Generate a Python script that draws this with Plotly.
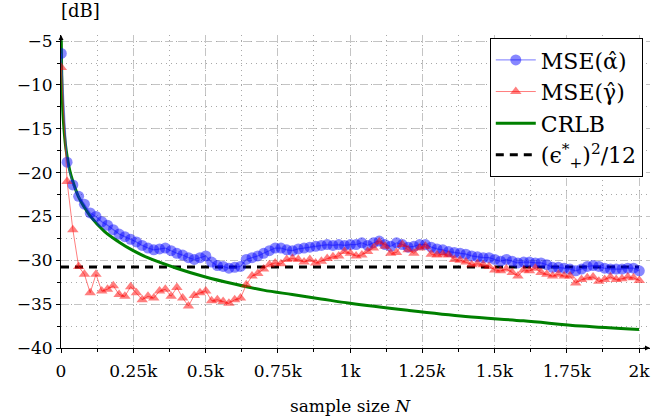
import plotly.graph_objects as go

# ---------------- data ----------------
sample_size = list(range(1, 2002, 20))  # N = 1, 21, ..., 2001

mse_alpha = [
    -6.4, -18.8, -21.4, -22.7, -23.6, -24.6, -25.0, -25.6, -26.0, -26.5,
    -27.0, -27.3, -27.6, -27.9, -28.3, -28.6, -28.8, -28.7, -28.6, -28.9,
    -29.2, -29.4, -29.7, -29.9, -29.7, -29.5, -30.2, -30.6, -30.7, -30.9,
    -30.8, -30.7, -29.9, -29.7, -29.5, -29.2, -28.9, -28.6, -28.6, -28.8,
    -28.9, -28.7, -28.6, -28.5, -28.4, -28.3, -28.2, -28.3, -28.2, -28.3,
    -28.2, -28.2, -28.0, -28.3, -28.0, -27.8, -28.2, -28.4, -28.0, -28.2,
    -28.5, -28.4, -28.2, -28.2, -28.5, -28.7, -28.8, -29.0, -29.1, -29.2,
    -29.3, -29.5, -29.6, -29.7, -29.7, -29.9, -30.1, -29.9, -30.1, -30.3,
    -30.2, -30.2, -30.3, -30.3, -30.5, -30.8, -30.8, -30.9, -31.0, -31.2,
    -31.0, -30.7, -30.6, -30.7, -30.9, -31.0, -31.0, -31.0, -30.9, -30.9,
    -31.2,
]

mse_gamma = [
    -8.0, -21.0, -26.5, -30.7, -31.6, -33.7, -31.6, -33.5, -33.3, -32.9,
    -33.9, -34.1, -33.0, -33.7, -34.5, -34.1, -34.3, -33.5, -33.3, -34.1,
    -33.1, -34.3, -35.2, -34.0, -33.7, -33.5, -34.6, -34.5, -34.7, -34.9,
    -34.5, -34.3, -32.8, -31.8, -31.5, -31.0, -30.5, -30.3, -30.4, -29.9,
    -29.8, -29.9, -30.2, -29.9, -30.3, -30.1, -29.8, -29.6, -29.5, -29.0,
    -29.2, -29.5, -29.4, -29.0, -28.6, -27.9, -28.4, -29.2, -29.1, -28.2,
    -28.8, -29.2, -28.6, -28.4, -29.3, -29.4, -29.3, -29.4, -29.9, -30.0,
    -30.2, -30.5, -30.4, -30.5, -30.7, -31.1, -31.2, -31.0, -31.4, -31.8,
    -31.1, -31.2, -30.9, -31.4, -31.6, -31.8, -31.6, -31.8, -31.8, -32.6,
    -32.2, -32.0, -31.9, -32.4, -32.2, -31.9, -32.2, -32.1, -31.9, -32.0,
    -32.3,
]

crlb_n = [1, 2, 3, 5, 7, 10, 15, 20, 30, 40, 60, 80, 100, 150, 200, 250, 300,
          400, 500, 600, 700, 800, 900, 1000, 1200, 1400, 1600, 1800, 2000]
crlb_db = [-4.9, -7.9, -9.7, -11.9, -13.4, -14.9, -16.7, -17.9, -19.7, -20.9,
           -22.7, -23.9, -24.9, -26.7, -27.9, -28.9, -29.7, -30.9, -31.9,
           -32.7, -33.4, -33.9, -34.4, -34.9, -35.7, -36.4, -36.9, -37.5, -37.9]

quant_n = [0, 2000]
quant_db = [-30.75, -30.75]

x_tickvals = [0, 250, 500, 750, 1000, 1250, 1500, 1750, 2000]
x_ticktext = ["0", "0.25k", "0.5k", "0.75k", "1k", "1.25<i>k</i>", "1.5k", "1.75k", "2k"]
y_tickvals = [-5, -10, -15, -20, -25, -30, -35, -40]
y_ticktext = ["\u22125", "\u221210", "\u221215", "\u221220", "\u221225", "\u221230", "\u221235", "\u221240"]

# ---------------- figure ----------------
FONT = "DejaVu Serif"
XMAX = 2038
YMIN, YMAX = -40, -4.3

fig = go.Figure()

fig.add_trace(go.Scatter(
    x=quant_n, y=quant_db, mode="lines", name="(\u03f5<sup>*</sup><sub>+</sub>)<sup>2</sup>/12",
    line=dict(color="black", width=3, dash="8px,6px"), legendrank=4,
))
fig.add_trace(go.Scatter(
    x=crlb_n, y=crlb_db, mode="lines", name="CRLB", line_shape="spline",
    line=dict(color="#008000", width=3), legendrank=3,
))
fig.add_trace(go.Scatter(
    x=sample_size, y=mse_alpha, mode="lines+markers", name="MSE(\u03b1\u0302)",
    line=dict(color="rgba(60,60,255,0.55)", width=1.2),
    marker=dict(symbol="circle", size=11, color="rgba(0,0,255,0.47)", line=dict(width=0)),
    legendrank=1,
))
fig.add_trace(go.Scatter(
    x=sample_size, y=mse_gamma, mode="lines+markers", name="MSE(\u03b3\u0302)",
    line=dict(color="rgba(255,40,40,0.6)", width=1),
    marker=dict(symbol="triangle-up", size=10, color="rgba(255,0,0,0.5)", line=dict(width=0)),
    legendrank=2,
))

axis_common = dict(
    showline=True, linecolor="black", linewidth=1,
    ticks="outside", ticklen=4, tickcolor="black", tickwidth=1,
    showgrid=True, gridcolor="#c4c4c4", gridwidth=1, griddash="8px,5px",
    zeroline=False,
    tickfont=dict(family=FONT, size=17, color="black"),
)

fig.update_xaxes(
    range=[0, XMAX], tickmode="array", tickvals=x_tickvals, ticktext=x_ticktext,
    ticklabelstandoff=4,
    minor=dict(dtick=125, tick0=0, showgrid=True, gridcolor="#a8a8a8", griddash="1px,4px",
               ticks="outside", ticklen=3, tickcolor="black"),
    **axis_common,
)
fig.update_yaxes(
    range=[YMIN, YMAX], tickmode="array", tickvals=y_tickvals, ticktext=y_ticktext,
    minor=dict(dtick=2.5, tick0=0, showgrid=True, gridcolor="#a8a8a8", griddash="1px,4px",
               ticks="outside", ticklen=3, tickcolor="black"),
    **axis_common,
)

# axis arrows
fig.add_annotation(x=XMAX, y=YMIN, xref="x", yref="y", ax=-8, ay=0, showarrow=True,
                   arrowhead=2, arrowsize=1, arrowwidth=1, arrowcolor="black", text="")
fig.add_annotation(x=0, y=YMAX, xref="x", yref="y", ax=0, ay=8, showarrow=True,
                   arrowhead=2, arrowsize=1, arrowwidth=1, arrowcolor="black", text="")

# axis titles
fig.add_annotation(x=0, y=1, xref="x", yref="paper", yshift=12, xshift=-2,
                   yanchor="bottom", xanchor="left",
                   text="[dB]", showarrow=False, font=dict(family=FONT, size=18, color="black"))
fig.add_annotation(x=1000, y=0, xref="x", yref="paper", yshift=-46, yanchor="top",
                   text="sample size <i>N</i>", showarrow=False,
                   font=dict(family=FONT, size=17, color="black"))

fig.update_layout(
    width=661, height=418,
    margin=dict(l=61, r=11, t=35, b=70),
    plot_bgcolor="white", paper_bgcolor="white",
    font=dict(family=FONT, size=17, color="black"),
    legend=dict(
        x=0.728, y=0.99, xanchor="left", yanchor="top",
        bgcolor="white", bordercolor="black", borderwidth=1,
        font=dict(family=FONT, size=22, color="black"),
        traceorder="normal", itemwidth=40,
    ),
    showlegend=True,
)

fig.write_html("out.html", config={"displayModeBar": False},
               post_script="document.body.style.margin='0';document.body.style.padding='0';")
